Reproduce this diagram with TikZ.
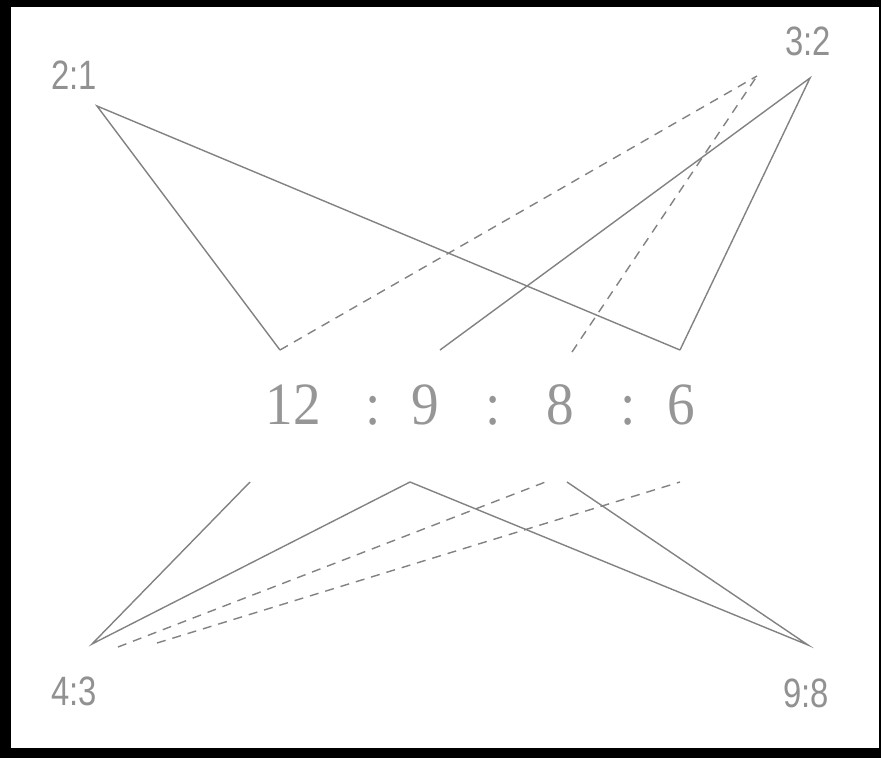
\documentclass[tikz,border=0pt]{standalone}
\usepackage{fontspec}
\setmainfont{Liberation Serif}
\newfontfamily\labfont{Liberation Sans}
\definecolor{linegray}{RGB}{130,130,130}
\definecolor{textgray}{RGB}{145,145,145}
\definecolor{numgray}{RGB}{150,150,150}
\begin{document}
\begin{tikzpicture}[x=1pt,y=-1pt,
  conn/.style={draw=linegray, line width=1.4pt},
  dashconn/.style={conn, dash pattern=on 9pt off 7pt},
  ratio/.style={text=textgray, font=\labfont\fontsize{41}{41}\selectfont, xscale=0.8, anchor=base, inner sep=0pt},
  num/.style={text=numgray, font=\fontsize{60}{60}\selectfont, xscale=0.92, anchor=base, inner sep=0pt}]
\useasboundingbox (0,0) rectangle (881,758);
\fill[black] (0,0) rectangle (881,758);
\fill[white] (11,7) rectangle (879,748);

% labels
\node[ratio] (l21) at (74,89) {2:1};
\node[ratio] (l32) at (808,55) {3:2};
\node[ratio] (l43) at (74,705) {4:3};
\node[ratio] (l98) at (806,707) {9:8};

% central ratio
\node[num] (n12) at (293,424) {12};
\node[num] (c1) at (373,424) {:};
\node[num] (n9) at (425,424) {9};
\node[num] (c2) at (493,424) {:};
\node[num] (n8) at (560,424) {8};
\node[num] (c3) at (628,424) {:};
\node[num] (n6) at (681,424) {6};

% vertices
\coordinate (v21) at (97,106);
\coordinate (v32) at (810,78);
\coordinate (d32) at (757,76);
\coordinate (t12) at (280,350);
\coordinate (t9) at (440,350);
\coordinate (t8) at (572,352);
\coordinate (t6) at (680,350);
\coordinate (v43) at (92,644);
\coordinate (d43a) at (118,647);
\coordinate (d43b) at (157,643);
\coordinate (v98) at (808,645);
\coordinate (b12) at (250,482);
\coordinate (b9) at (410,482);
\coordinate (b8d) at (548,481);
\coordinate (b8) at (567,482);
\coordinate (b6) at (680,482);

% top connectors
\draw[conn] (t12) -- (v21) -- (t6);
\draw[conn] (t9) -- (v32) -- (t6);
\draw[dashconn] (t12) -- (d32);
\draw[dashconn] (t8) -- (d32);

% bottom connectors
\draw[conn] (b12) -- (v43) -- (b9);
\draw[conn] (b9) -- (v98) -- (b8);
\draw[dashconn] (d43a) -- (b8d);
\draw[dashconn] (d43b) -- (b6);
\end{tikzpicture}
\end{document}
